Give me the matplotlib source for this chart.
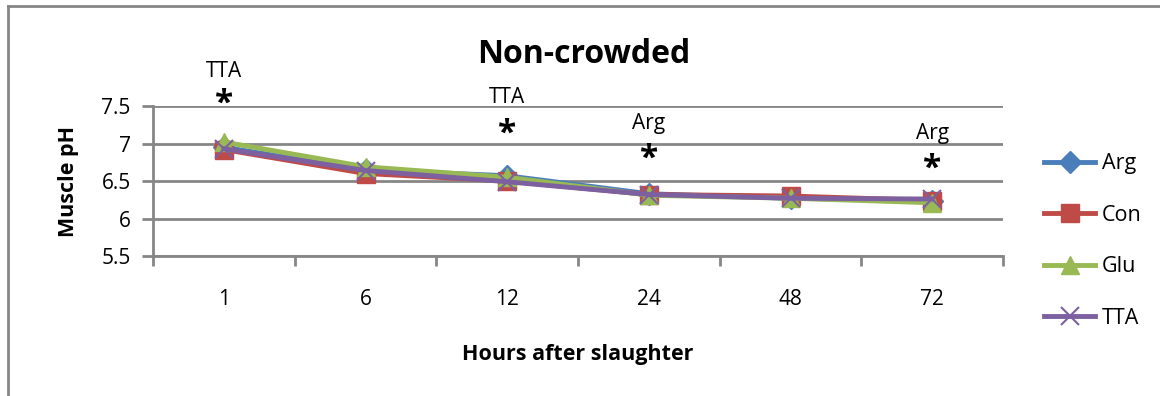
import matplotlib.pyplot as plt
from matplotlib.lines import Line2D

plt.rcParams['font.family'] = ['Open Sans', 'DejaVu Sans']

# Hours after slaughter (categorical axis)
hours = ['1', '6', '12', '24', '48', '72']

# Muscle pH per treatment
arg = [6.95, 6.65, 6.57, 6.33, 6.27, 6.24]
con = [6.92, 6.60, 6.50, 6.32, 6.30, 6.24]
glu = [7.02, 6.69, 6.55, 6.31, 6.27, 6.21]
tta = [6.93, 6.64, 6.49, 6.32, 6.27, 6.26]

# Significance marks: (category index, label, label height, star height)
sig_marks = [(0, 'TTA', 7.96, 7.52),
             (2, 'TTA', 7.61, 7.13),
             (3, 'Arg', 7.27, 6.79),
             (5, 'Arg', 7.14, 6.66)]

fig = plt.figure(figsize=(11.6, 3.96), dpi=100)
ax = fig.add_axes([0.1319, 0.3535, 0.7328, 0.3788])

x = list(range(len(hours)))
ax.plot(x, arg, color='#4A7EBB', lw=3.5, marker='D', ms=11, label='Arg')
ax.plot(x, con, color='#BE4B48', lw=3.5, marker='s', ms=13, label='Con')
ax.plot(x, glu, color='#98B954', lw=3.5, marker='^', ms=13, label='Glu')
ax.plot(x, tta, color='#7D60A0', lw=3.5, marker='x', ms=13, mew=1.5, label='TTA')

for i, lab, ylab, ystar in sig_marks:
    ax.text(i, ylab, lab, ha='center', va='center', fontsize=15, clip_on=False)
    ax.text(i, ystar, '*', ha='center', va='center', fontsize=24,
            fontweight='bold', clip_on=False)

ax.set_xlim(-0.5, 5.5)
ax.set_ylim(5.5, 7.5)
ax.set_yticks([5.5, 6, 6.5, 7, 7.5])
ax.set_yticklabels(['5.5', '6', '6.5', '7', '7.5'])
ax.set_xticks(x)
ax.set_xticklabels(hours)
ax.set_xticks([v - 0.5 for v in range(len(hours) + 1)], minor=True)
ax.tick_params(axis='x', which='major', length=0, pad=24, labelsize=15)
ax.tick_params(axis='x', which='minor', length=7, width=2, color='#868686')
ax.tick_params(axis='y', length=8, width=2, color='#868686', labelsize=15, pad=8)

ax.grid(axis='y', color='#868686', lw=2)
ax.set_axisbelow(True)
for side in ['top', 'right']:
    ax.spines[side].set_visible(False)
for side in ['left', 'bottom']:
    ax.spines[side].set_color('#868686')
    ax.spines[side].set_linewidth(2)

ax.set_ylabel('Muscle pH', fontsize=15.5, fontweight='bold', labelpad=16)
ax.set_xlabel('Hours after slaughter', fontsize=15.5, fontweight='bold', labelpad=24)
fig.text(0.503, 0.862, 'Non-crowded', ha='center', va='center',
         fontsize=23, fontweight='bold')

ax.legend(loc='center left', bbox_to_anchor=(1.025, 0.1), frameon=False,
          fontsize=15.5, labelspacing=1.42, handlelength=2.4, handletextpad=0.3)

# chart border (top and left edges)
fig.add_artist(Line2D([0.007, 1.0], [0.985, 0.985], color='#868686', lw=2))
fig.add_artist(Line2D([0.007, 0.007], [0.0, 0.985], color='#868686', lw=2))

fig.savefig('out.png', dpi=100)
